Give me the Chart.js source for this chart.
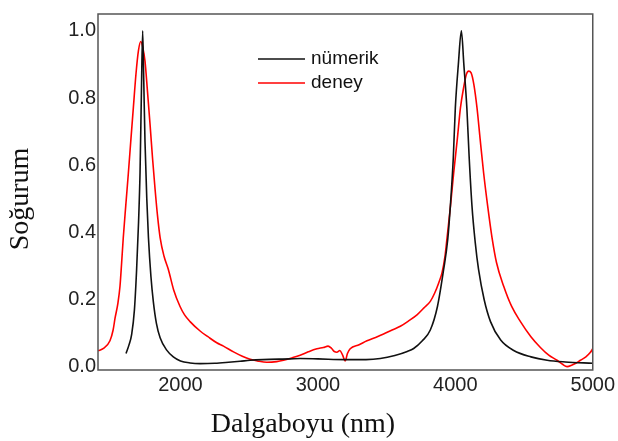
<!DOCTYPE html>
<html>
<head>
<meta charset="utf-8">
<script src="https://cdn.jsdelivr.net/npm/chart.js@4/dist/chart.umd.min.js"></script>
<style>
  html, body { margin: 0; padding: 0; background: #fff; }
  #wrap { width: 618px; height: 441px; position: relative; }
</style>
</head>
<body>
<div id="wrap"><canvas id="chart"></canvas></div>
<script>
// numerical (black) curve
const numX = [1604, 1625, 1645, 1665, 1681, 1695, 1706, 1716, 1725, 1733, 1742, 1755, 1767, 1785, 1803, 1825, 1852, 1900, 1948, 2000,
  2070, 2143, 2250, 2350, 2434, 2507, 2600, 2798, 2871, 3000, 3200, 3350, 3454, 3560, 3650, 3697, 3760, 3818, 3870, 3915,
  3945, 3964, 3985, 4000, 4022, 4044, 4062, 4084, 4100, 4121, 4145, 4169, 4210, 4256, 4330, 4425, 4550, 4668, 4800, 5000];
const numY = [0.040, 0.065, 0.097, 0.17, 0.29, 0.43, 0.58, 0.82, 1.00, 0.85, 0.67, 0.50, 0.385, 0.27, 0.193, 0.13, 0.087, 0.05, 0.030, 0.018,
  0.012, 0.010, 0.011, 0.014, 0.017, 0.020, 0.022, 0.024, 0.025, 0.024, 0.022, 0.022, 0.025, 0.034, 0.046, 0.055, 0.078, 0.11, 0.18, 0.29,
  0.38, 0.48, 0.62, 0.77, 0.90, 1.00, 0.90, 0.77, 0.63, 0.48, 0.37, 0.29, 0.20, 0.135, 0.08, 0.049, 0.030, 0.020, 0.015, 0.011];

// experimental (red) curve
const expX = [1400, 1440, 1487, 1510, 1524, 1545, 1560, 1572, 1584, 1602, 1621, 1640, 1657, 1676, 1694, 1711, 1726, 1742, 1760, 1779,
  1797, 1815, 1833, 1852, 1880, 1912, 1950, 1997, 2030, 2070, 2143, 2200, 2264, 2313, 2386, 2450, 2507, 2560, 2629, 2700,
  2750, 2810, 2871, 2930, 2993, 3040, 3074, 3100, 3120, 3138, 3160, 3180, 3199, 3215, 3235, 3300, 3357, 3420, 3478, 3540,
  3600, 3660, 3721, 3770, 3818, 3850, 3879, 3903, 3925, 3940, 3965, 3988, 4015, 4037, 4060, 4080, 4097, 4115, 4135, 4158,
  4180, 4206, 4235, 4267, 4300, 4352, 4410, 4474, 4550, 4619, 4680, 4740, 4780, 4813, 4850, 4880, 4910, 4950, 4980, 5000];
const expY = [0.048, 0.055, 0.078, 0.11, 0.145, 0.19, 0.24, 0.31, 0.385, 0.48, 0.577, 0.68, 0.77, 0.87, 0.94, 0.968, 0.95, 0.91, 0.82, 0.72,
  0.62, 0.53, 0.45, 0.385, 0.33, 0.29, 0.23, 0.18, 0.155, 0.135, 0.107, 0.09, 0.072, 0.062, 0.045, 0.032, 0.023, 0.018, 0.014, 0.016,
  0.020, 0.027, 0.035, 0.045, 0.054, 0.058, 0.062, 0.055, 0.046, 0.044, 0.049, 0.035, 0.018, 0.040, 0.054, 0.066, 0.078, 0.088, 0.098, 0.110,
  0.121, 0.137, 0.155, 0.175, 0.195, 0.22, 0.25, 0.28, 0.33, 0.385, 0.48, 0.577, 0.68, 0.77, 0.83, 0.87, 0.88, 0.875, 0.84, 0.77,
  0.68, 0.577, 0.48, 0.385, 0.31, 0.24, 0.18, 0.135, 0.09, 0.058, 0.035, 0.020, 0.008, 0.001, 0.006, 0.012, 0.020, 0.030, 0.042, 0.054];

const xTicks = [2000, 3000, 4000, 5000];
const yTicks = [0.0, 0.2, 0.4, 0.6, 0.8, 1.0];
const seriesLabels = ["nümerik", "deney"];
const xTitle = "Dalgaboyu (nm)";
const yTitle = "Soğurum";

function toPoints(xs, ys) {
  return xs.map((x, i) => ({ x, y: ys[i] }));
}

// frame, axis titles and the in-plot legend
const decorPlugin = {
  id: "decor",
  afterDraw(chart) {
    const { ctx, chartArea } = chart;
    ctx.save();
    ctx.strokeStyle = "#555";
    ctx.lineWidth = 1.5;
    ctx.strokeRect(chartArea.left, chartArea.top, chartArea.right - chartArea.left, chartArea.bottom - chartArea.top);

    ctx.fillStyle = "#111";
    ctx.font = "28px 'Liberation Serif', 'Times New Roman', serif";
    ctx.textAlign = "center";
    ctx.textBaseline = "middle";
    ctx.fillText(xTitle, 303, 425);
    ctx.translate(21, 199);
    ctx.rotate(-Math.PI / 2);
    ctx.fillText(yTitle, 0, 0);
    ctx.restore();

    ctx.save();
    ctx.font = "19px 'Liberation Sans', Arial, sans-serif";
    ctx.textAlign = "left";
    ctx.textBaseline = "middle";
    chart.data.datasets.forEach((ds, i) => {
      const y = 59 + i * 24;
      ctx.strokeStyle = ds.borderColor;
      ctx.lineWidth = 1.5;
      ctx.beginPath();
      ctx.moveTo(258, y);
      ctx.lineTo(305, y);
      ctx.stroke();
      ctx.fillStyle = "#111";
      ctx.fillText(ds.label, 311, y);
    });
    ctx.restore();
  }
};

new Chart(document.getElementById("chart"), {
  type: "line",
  data: {
    datasets: [
      {
        label: seriesLabels[0],
        data: toPoints(numX, numY),
        borderColor: "#111111",
        borderWidth: 1.6,
        pointRadius: 0,
        cubicInterpolationMode: "monotone",
        fill: false
      },
      {
        label: seriesLabels[1],
        data: toPoints(expX, expY),
        borderColor: "#ff0000",
        borderWidth: 1.6,
        pointRadius: 0,
        cubicInterpolationMode: "monotone",
        fill: false
      }
    ]
  },
  options: {
    responsive: true,
    maintainAspectRatio: false,
    animation: false,
    layout: { padding: { top: 3, right: 25, left: 0, bottom: 0 } },
    plugins: {
      legend: { display: false },
      tooltip: { enabled: false }
    },
    scales: {
      x: {
        type: "linear",
        min: 1400,
        max: 5000,
        afterBuildTicks(scale) {
          scale.ticks = xTicks.map((v) => ({ value: v }));
        },
        afterFit(scale) {
          scale.height = 71;
        },
        grid: { display: false, drawTicks: false },
        border: { display: false },
        ticks: {
          color: "#222",
          padding: 3,
          maxRotation: 0,
          font: { family: "'Liberation Sans', Arial, sans-serif", size: 20 },
          callback: (v) => String(v)
        }
      },
      y: {
        type: "linear",
        min: -0.009,
        max: 1.05,
        afterBuildTicks(scale) {
          scale.ticks = yTicks.map((v) => ({ value: v }));
        },
        afterFit(scale) {
          scale.width = 98;
        },
        grid: { display: false, drawTicks: false },
        border: { display: false },
        ticks: {
          color: "#222",
          padding: 2,
          font: { family: "'Liberation Sans', Arial, sans-serif", size: 20 },
          callback: (v) => Number(v).toFixed(1)
        }
      }
    }
  },
  plugins: [decorPlugin]
});
</script>
</body>
</html>
